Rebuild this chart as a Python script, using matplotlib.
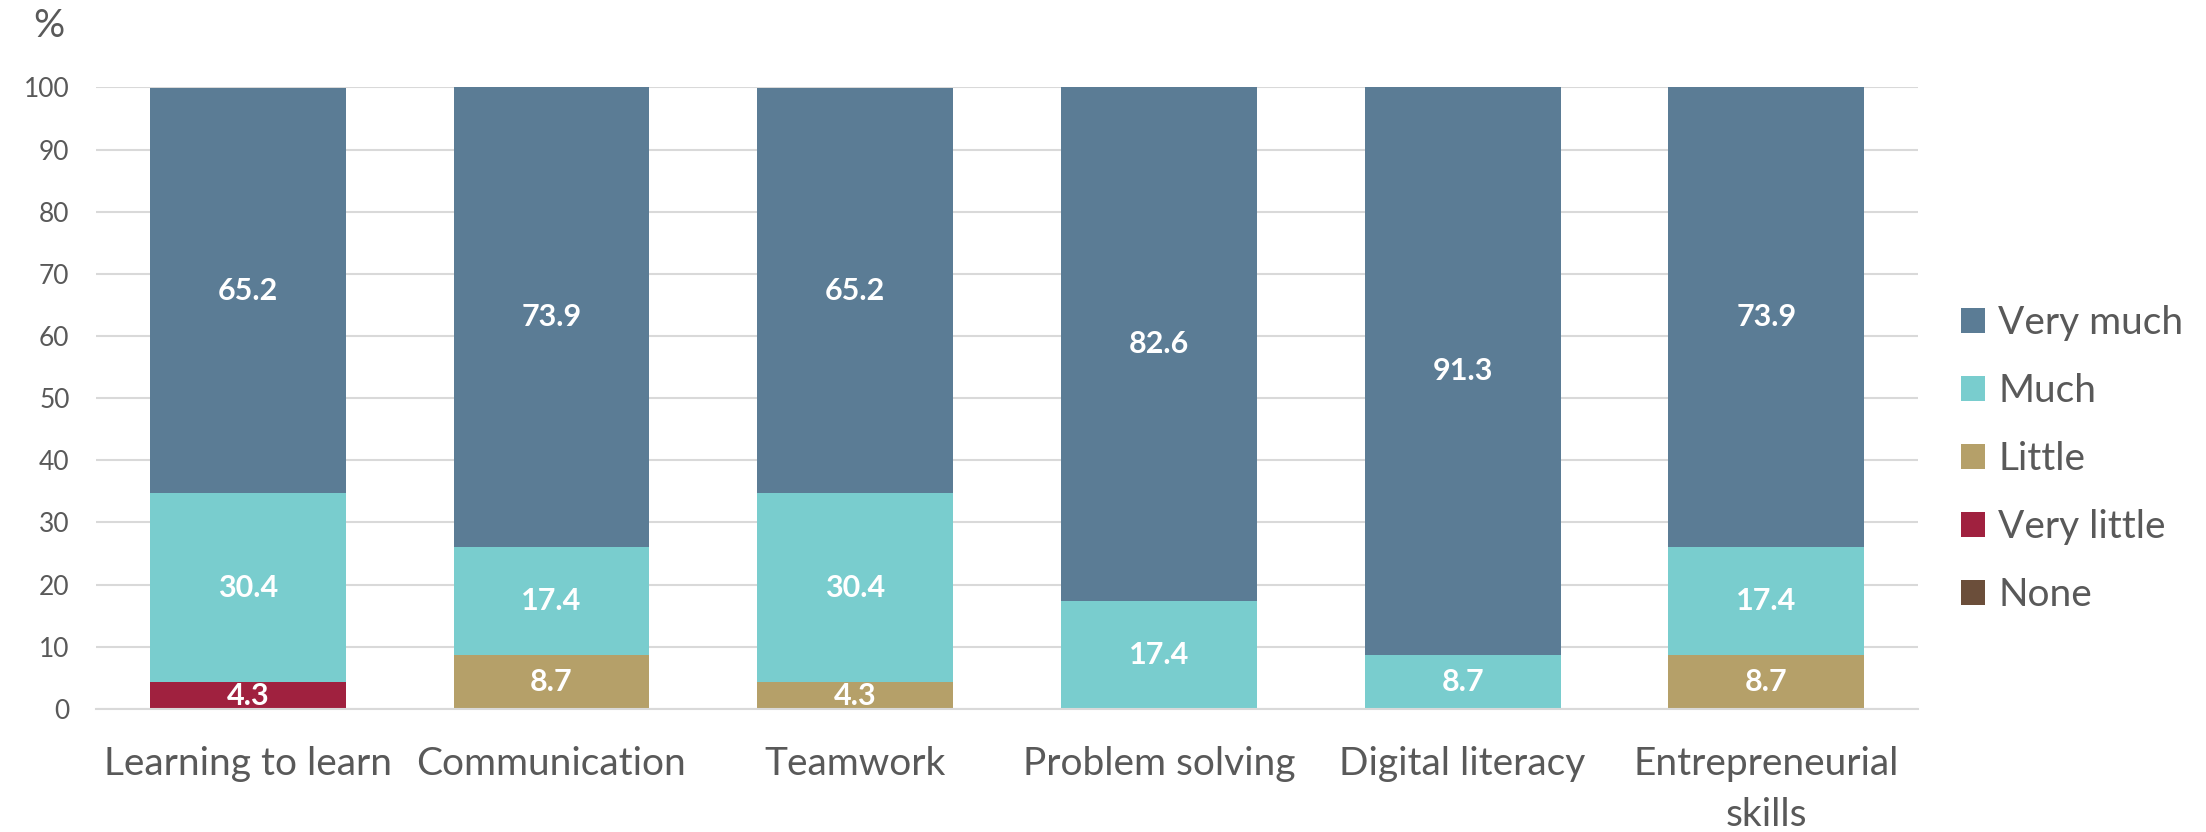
import numpy as np
import matplotlib as mpl
mpl.use('Agg')
import matplotlib.pyplot as plt

plt.rcParams['font.family'] = ['Lato', 'DejaVu Sans']

categories = ['Learning to learn', 'Communication', 'Teamwork', 'Problem solving',
              'Digital literacy', 'Entrepreneurial\nskills']
none = [0, 0, 0, 0, 0, 0]
very_little = [4.3, 0, 0, 0, 0, 0]
little = [0, 8.7, 4.3, 0, 0, 8.7]
much = [30.4, 17.4, 30.4, 17.4, 8.7, 17.4]
very_much = [65.2, 73.9, 65.2, 82.6, 91.3, 73.9]

series = [('None', none, '#6B4E3A'),
          ('Very little', very_little, '#A0213F'),
          ('Little', little, '#B5A069'),
          ('Much', much, '#79CDCE'),
          ('Very much', very_much, '#5B7C95')]

fig = plt.figure(figsize=(22.06, 8.32), dpi=100)
ax = fig.add_axes([0.0435, 0.148, 0.826, 0.747])

x = np.arange(len(categories))
bottom = np.zeros(len(categories))
handles = []
for name, vals, col in series:
    vals = np.array(vals, dtype=float)
    b = ax.bar(x, vals, 0.645, bottom=bottom, color=col, label=name, zorder=2)
    handles.append(b)
    for xi, v, bt in zip(x, vals, bottom):
        if v > 0:
            ax.text(xi, bt + v / 2, f'{v:.1f}', ha='center', va='center',
                    color='white', fontsize=22, fontweight='bold', zorder=3)
    bottom += vals

ax.set_xlim(-0.5, len(categories) - 0.5)
ax.set_ylim(0, 100)
ax.set_yticks(range(0, 101, 10))
ax.yaxis.grid(True, color='#d9d9d9', linewidth=1.5, zorder=0)
ax.set_axisbelow(True)
for s in ['top', 'right', 'left']:
    ax.spines[s].set_visible(False)
ax.spines['bottom'].set_color('#d9d9d9')
ax.spines['bottom'].set_linewidth(1.5)
ax.tick_params(axis='both', length=0, colors='#595959', labelsize=19)
ax.tick_params(axis='x', labelsize=28, pad=27)
ax.tick_params(axis='y', pad=19)
ax.set_xticks(x)
ax.set_xticklabels(categories, linespacing=1.5)

fig.text(0.022, 0.969, '%', ha='center', va='center', fontsize=28, color='#595959')

leg = fig.legend(handles[::-1], [s[0] for s in series][::-1], loc='center left',
                 bbox_to_anchor=(0.889, 0.448), frameon=False, fontsize=28,
                 borderaxespad=0, borderpad=0,
                 handlelength=0.62, handleheight=0.62, handletextpad=0.33,
                 labelspacing=0.82, labelcolor='#595959')

plt.savefig('out.png', dpi=100)
